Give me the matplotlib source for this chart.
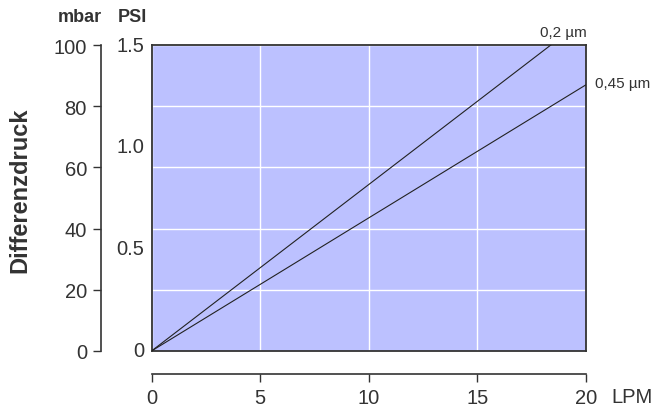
import matplotlib
matplotlib.use("Agg")
import matplotlib.pyplot as plt
from matplotlib.transforms import blended_transform_factory

plt.rcParams['font.family'] = ['Liberation Sans', 'DejaVu Sans']

# data
flow_lpm = [0, 20]
dp_02 = [0, 108.8]    # 0,2 µm  (reaches 100 mbar at ~18.4 LPM)
dp_045 = [0, 87.0]    # 0,45 µm
series_labels = ['0,2 µm', '0,45 µm']
x_ticks = [0, 5, 10, 15, 20]
mbar_ticks = [0, 20, 40, 60, 80, 100]
psi_ticks = [0, 0.5, 1.0, 1.5]
psi_labels = ['0', '0.5', '1.0', '1.5']

W, H = 654, 410
fig = plt.figure(figsize=(W/100, H/100), dpi=100)
L, R, T, B = 151.5, 586, 46, 352
rect = [L/W, 1-B/H, (R-L)/W, (B-T)/H]
PT = 0.72  # points per pixel

txt = '#333333'
ax = fig.add_axes(rect)
ax.set_facecolor('#bcc1ff')
ax.set_xlim(0, 20)
ax.set_ylim(0, 100)
ax.set_xticks(x_ticks[1:-1])
ax.set_yticks(mbar_ticks[1:-1])
ax.grid(True, color='white', linewidth=1.0)
ax.tick_params(length=0, labelbottom=False, labelleft=False)
for s in ax.spines.values():
    s.set_color('#333333')
    s.set_linewidth(1.3)

ax.plot(flow_lpm, dp_02, color='#222222', linewidth=0.8, zorder=3)
ax.plot(flow_lpm, dp_045, color='#222222', linewidth=0.8, zorder=3)

# outer axes for tick scales
ax2 = fig.add_axes(rect, sharex=ax, sharey=ax)
ax2.set_facecolor('none')
for k in ['top', 'right']:
    ax2.spines[k].set_visible(False)
ax2.spines['left'].set_position(('outward', 51*PT))
ax2.spines['bottom'].set_position(('outward', 23*PT))
for k in ['left', 'bottom']:
    ax2.spines[k].set_color('#333333')
    ax2.spines[k].set_linewidth(1.2)
ax2.set_xticks(x_ticks)
ax2.set_yticks(mbar_ticks)
ax2.tick_params(axis='both', direction='out', length=8*PT, width=1.0, color='#333333',
                labelsize=14.5, labelcolor=txt)
ax2.tick_params(axis='x', pad=4.5)
ax2.tick_params(axis='y', pad=4)

# PSI labels
tr = blended_transform_factory(fig.transFigure, ax.transData)
for p, lab in zip(psi_ticks, psi_labels):
    ax.text(144/W, p*100/1.5, lab, transform=tr, ha='right', va='center',
            fontsize=14.5, color=txt)

fig.text(80/W, 1-18/H, 'mbar', ha='center', va='center', fontsize=13,
         fontweight='bold', color=txt)
fig.text(132/W, 1-18/H, 'PSI', ha='center', va='center', fontsize=13,
         fontweight='bold', color=txt)
fig.text(20/W, 1-190/H, 'Differenzdruck', ha='center', va='center', rotation=90,
         fontsize=17, fontweight='bold', color=txt)
fig.text(632/W, 1-398/H, 'LPM', ha='center', va='center', fontsize=14.5, color=txt)

fig.text(563/W, 1-33/H, series_labels[0], ha='center', va='center', fontsize=11, color=txt)
fig.text(595/W, 1-84/H, series_labels[1], ha='left', va='center', fontsize=11, color=txt)

fig.savefig('out.png', dpi=100)
